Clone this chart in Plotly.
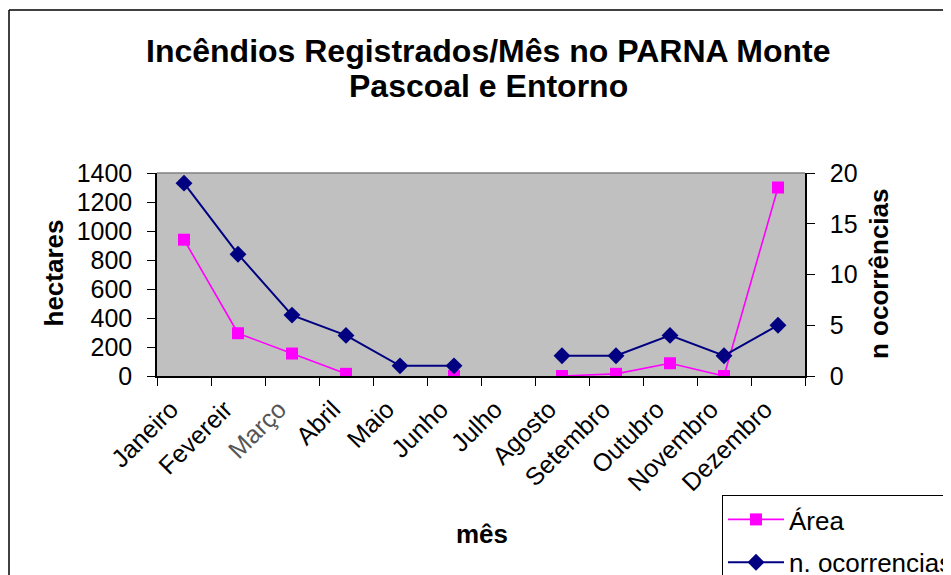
import plotly.graph_objects as go

meses = ["Janeiro", "Fevereir", "Março", "Abril", "Maio", "Junho", "Julho",
         "Agosto", "Setembro", "Outubro", "Novembro", "Dezembro"]
area = [940, 295, 155, 15, None, 0, None, 0, 15, 88, 0, 1300]
ocorrencias = [19, 12, 6, 4, 1, 1, None, 2, 2, 4, 2, 5]

y_ticks = [0, 200, 400, 600, 800, 1000, 1200, 1400]
y2_ticks = [0, 5, 10, 15, 20]

FONT = "Liberation Sans, Arial, sans-serif"
OFF = 8  # page body margin
W, H = 951 - 2 * OFF, 575 - OFF
L, T = 157 - OFF, 173 - OFF
R = W - (805 - OFF)
B = H - (376 - OFF)
pw, ph = W - L - R, H - T - B

def px(x):  # page pixel -> paper x
    return (x - OFF - L) / pw

def py(y):  # page pixel -> paper y
    return (H - B - (y - OFF)) / ph

fig = go.Figure()
fig.add_trace(go.Scatter(
    x=meses, y=area, name="Área", mode="lines+markers", legendgroup="a",
    line=dict(color="#FF00FF", width=1.6),
    marker=dict(symbol="square", size=12, color="#FF00FF"),
    connectgaps=False,
))
fig.add_trace(go.Scatter(
    x=meses, y=ocorrencias, name="n. ocorrencias", mode="lines+markers",
    yaxis="y2", legendgroup="b",
    line=dict(color="#000080", width=2),
    marker=dict(symbol="diamond", size=13, color="#000080"),
    connectgaps=False,
))

tick_text = [m if m != "Março" else "<span style='color:#555555'>Março</span>" for m in meses]

fig.update_layout(
    width=W, height=H,
    margin=dict(l=L, r=R, t=T, b=B, autoexpand=False),
    paper_bgcolor="white",
    plot_bgcolor="#C0C0C0",
    font=dict(family=FONT, size=25, color="black"),
    showlegend=True,
    legend=dict(
        xref="container", yref="container",
        x=(722 - OFF) / W, y=1 - (495 - OFF) / H, xanchor="left", yanchor="top",
        bgcolor="white", bordercolor="black", borderwidth=1,
        font=dict(family=FONT, size=26, color="black"),
        tracegroupgap=6, itemwidth=56,
    ),
    xaxis=dict(
        type="category", range=[-0.5, 11.5],
        tickmode="array", tickvals=meses, ticktext=tick_text,
        tickangle=-45, tickson="boundaries",
        ticks="outside", ticklen=8, tickcolor="black", tickwidth=1,
        showline=True, linecolor="black", linewidth=1.5,
        showgrid=False, zeroline=False,
        tickfont=dict(family=FONT, size=25, color="black"),
        ticklabelshift=-13, ticklabelstandoff=7,
    ),
    yaxis=dict(
        range=[0, 1400], tickmode="array", tickvals=y_ticks,
        ticks="outside", ticklen=8, tickcolor="black", tickwidth=1,
        showline=True, linecolor="black", linewidth=1.5,
        showgrid=False, zeroline=False,
        tickfont=dict(family=FONT, size=25, color="black"),
        ticklabelstandoff=10,
    ),
    yaxis2=dict(
        range=[0, 20], tickmode="array", tickvals=y2_ticks,
        overlaying="y", side="right",
        ticks="outside", ticklen=8, tickcolor="black", tickwidth=1,
        showline=True, linecolor="black", linewidth=1.5,
        showgrid=False, zeroline=False,
        tickfont=dict(family=FONT, size=25, color="black"),
        ticklabelstandoff=10,
    ),
)

# plot-area top border
fig.add_shape(type="line", xref="paper", yref="paper", x0=0, x1=1, y0=1, y1=1,
              line=dict(color="#808080", width=1.5))
# outer chart border: only its left and top edges fall inside the picture
fig.add_shape(type="line", xref="paper", yref="paper",
              x0=px(9), x1=px(9), y0=py(600), y1=py(10),
              line=dict(color="black", width=1.5), layer="below")
fig.add_shape(type="line", xref="paper", yref="paper",
              x0=px(9), x1=px(951), y0=py(10), y1=py(10),
              line=dict(color="black", width=1.5), layer="below")

ann = [
    dict(text="<b>Incêndios Registrados/Mês no PARNA Monte</b>", x=px(488), y=py(51), size=32, angle=0),
    dict(text="<b>Pascoal e Entorno</b>", x=px(488), y=py(86), size=32, angle=0),
    dict(text="<b>hectares</b>", x=px(53), y=py(273.5), size=26, angle=-90),
    dict(text="<b>n ocorrências</b>", x=px(879), y=py(274), size=26, angle=-90),
    dict(text="<b>mês</b>", x=px(482), y=py(534), size=26, angle=0),
]
for a in ann:
    fig.add_annotation(text=a["text"], x=a["x"], y=a["y"], xref="paper", yref="paper",
                       xanchor="center", yanchor="middle", showarrow=False,
                       textangle=a["angle"],
                       font=dict(family=FONT, size=a["size"], color="black"))

fig.write_html("out.html")
